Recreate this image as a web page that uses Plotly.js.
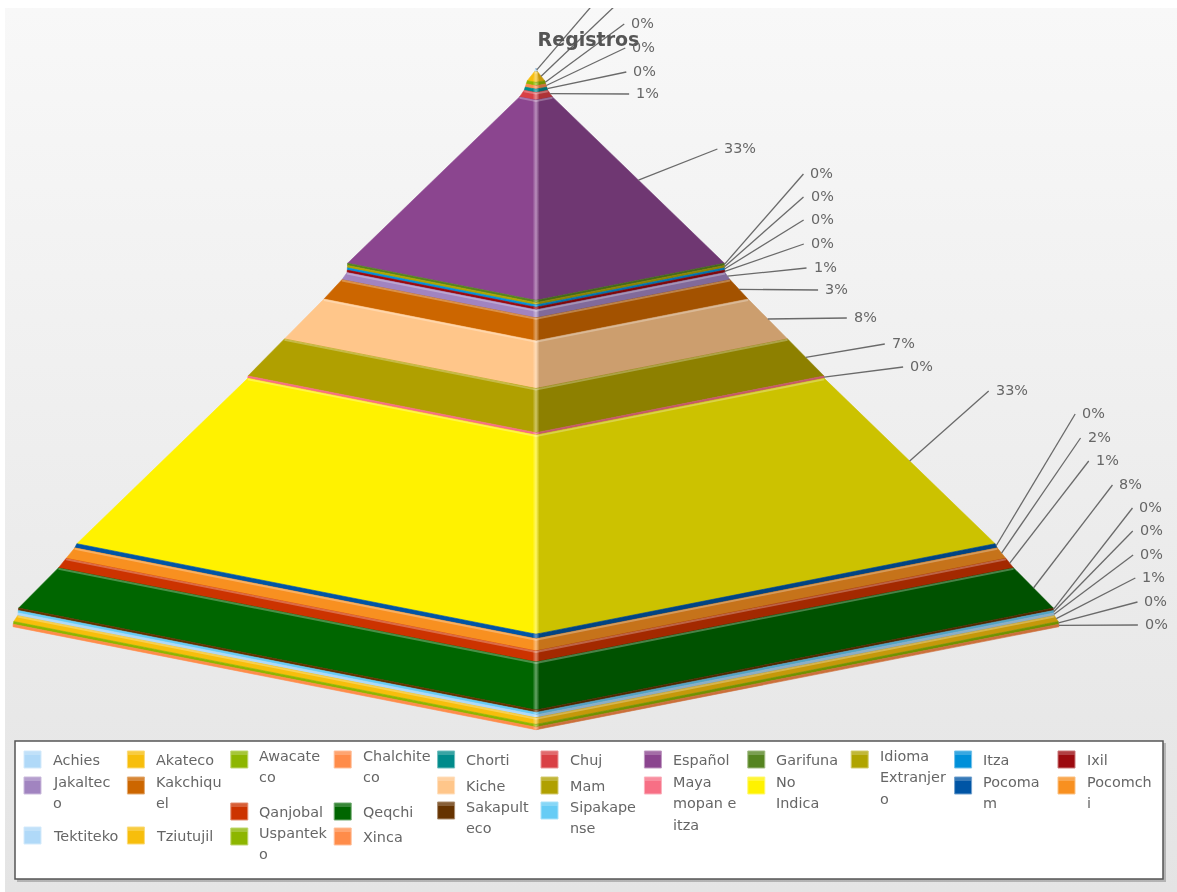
<!DOCTYPE html>
<html><head><meta charset="utf-8">
<script src="https://cdn.plot.ly/plotly-3.0.1.min.js"></script>
<style>
html,body{margin:0;padding:0;background:#fff;width:1177px;height:892px;overflow:hidden}
#bg{position:absolute;left:5px;top:8px;width:1172px;height:884px;background:linear-gradient(#f8f8f8,#e4e4e4)}
#chart{position:absolute;left:0;top:0;width:1177px;height:892px;filter:blur(0.45px)}
</style></head><body>
<div id="bg"></div><div id="chart"></div>
<script>
// ---- data (top of pyramid first) ----
const seriesNames=["Achies","Akateco","Awacateco","Chalchiteco","Chorti","Chuj","Español","Garifuna","Idioma Extranjero","Itza","Ixil","Jakalteco","Kakchiquel","Kiche","Mam","Maya mopan e itza","No Indica","Pocomam","Pocomchi","Qanjobal","Qeqchi","Sakapulteco","Sipakapense","Tektiteko","Tziutujil","Uspanteko","Xinca"];
const seriesValues=[0.3,1.4,0.2,0.2,0.2,0.9,33.5,0.02,0.02,0.02,0.05,1.0,3.5,7.7,7.1,0.04,33.3,0.4,1.7,1.49,7.75,0.05,0.05,0.1,0.75,0.1,0.05];
const seriesColors=["#B0D9F8","#F7BE0C","#8DB600","#FF8C4A","#008B8B","#D94045","#8B458F","#558420","#B0A400","#0090D9","#9C0A0F","#A184C0","#CC6600","#FFC68A","#B0A000","#F76F85","#FFF200","#0055A5","#F89020","#CC3300","#006600","#663300","#66CCF5","#B0D9F8","#F7BE0C","#8DB600","#FF8C4A"];
// ---- label and legend layout ----
const labelY=[-23,0,23,47,71,93,148,173,196,219,243,267,289,317,343,366,390,413,437,460,484,507,530,554,577,601,624];
const legendText=["Achies","Akateco","Awacate<br>co","Chalchite<br>co","Chorti","Chuj","Español","Garifuna","Idioma<br>Extranjer<br>o","Itza","Ixil","Jakaltec<br>o","Kakchiqu<br>el","Kiche","Mam","Maya<br>mopan e<br>itza","No<br>Indica","Pocoma<br>m","Pocomch<br>i","Qanjobal","Qeqchi","Sakapult<br>eco","Sipakape<br>nse","Tektiteko","Tziutujil","Uspantek<br>o","Xinca"];
const legendCol=[0,1,2,3,4,5,6,7,8,9,10,0,1,4,5,6,7,9,10,2,3,4,5,0,1,2,3];
const legendRowY=[760,760,760,760,760,760,760,760,760,760,760,786,786,786,786,786,786,786,786,812,812,811,811,836,836,837,837];

// ---- geometry ----
const CX=536,APEX=68,HALF=523,DEPTH=0.197,MINH=2.2,PX_PER_UNIT=4.9,LINE_H=21.5,FS=14.4;
const total=seriesValues.reduce((a,b)=>a+b,0);
function rgb(h){return [1,3,5].map(i=>parseInt(h.substr(i,2),16));}
function mix(h,t,a){const c=rgb(h);return 'rgb('+c.map(v=>Math.round(v+(t-v)*a)).join(',')+')';}
function hexOf(h,f){const c=rgb(h);return '#'+c.map(v=>Math.round(v*f).toString(16).padStart(2,'0')).join('');}
const traces=[],annotations=[],shapes=[];
let cum=0,y=APEX,w=0;
function poly(xs,ys,color){traces.push({x:xs.concat(xs[0]),y:ys.concat(ys[0]),type:'scatter',mode:'lines',line:{width:0.6,color:color},fill:'toself',fillcolor:color,hoverinfo:'skip'});}
seriesValues.forEach((v,i)=>{
  const pct=v/total*100;
  const wt=w,yt=y;
  cum+=pct; w=cum/100*HALF; y=yt+MINH+v*PX_PER_UNIT;
  const wb=w,yb=y,col=seriesColors[i],dark=hexOf(col,0.8);
  poly([CX-wt,CX,CX,CX-wb],[yt,yt+DEPTH*wt,yb+DEPTH*wb,yb],col);
  poly([CX+wt,CX,CX,CX+wb],[yt,yt+DEPTH*wt,yb+DEPTH*wb,yb],dark);
  // front-edge highlight
  const sT=Math.min(3.5,wt),sB=Math.min(3.5,wb);
  if(sB>0){
    const xs=[CX-sT,CX,CX+sT,CX+sB,CX,CX-sB,CX-sT];
    const ys=[yt+DEPTH*(wt-sT),yt+DEPTH*wt,yt+DEPTH*(wt-sT),yb+DEPTH*(wb-sB),yb+DEPTH*wb,yb+DEPTH*(wb-sB),yt+DEPTH*(wt-sT)];
    traces.push({x:xs,y:ys,type:'scatter',mode:'none',fill:'toself',hoverinfo:'skip',
      fillgradient:{type:'horizontal',colorscale:[[0,col],[0.5,mix(col,255,0.4)],[1,dark]]}});
  }
  // lighter rim on band top
  if(yb-yt>5&&wt>0){
    traces.push({x:[CX-wt,CX,CX+wt],y:[yt+1,yt+1+DEPTH*wt,yt+1],type:'scatter',mode:'lines',line:{width:1.8,color:'rgba(255,255,255,0.28)'},hoverinfo:'skip'});
  }
  // connector + label
  const ax=CX+(wt+wb)/2,ay=(yt+yb)/2,ex=ax+79,ey=labelY[i]+1;
  traces.push({x:[ax,ex],y:[ay,ey],type:'scatter',mode:'lines',line:{width:1.3,color:'#6a6a6a'},hoverinfo:'skip'});
  annotations.push({x:ex+5,y:labelY[i],xref:'x',yref:'y',text:Math.round(pct)+'%',showarrow:false,xanchor:'left',yanchor:'middle',font:{family:'DejaVu Sans',size:FS,color:'#666'}});
});

// ---- legend box ----
shapes.push({type:'rect',xref:'x',yref:'y',x0:17,x1:1166,y0:743,y1:882,fillcolor:'rgba(90,90,90,0.35)',line:{width:0},layer:'above'});
shapes.push({type:'rect',xref:'x',yref:'y',x0:15,x1:1163,y0:741,y1:879,fillcolor:'#fff',line:{width:1.5,color:'#555'},layer:'above'});
seriesNames.forEach((n,i)=>{
  const sx=24+legendCol[i]*103.4,sy=legendRowY[i];
  shapes.push({type:'rect',xref:'x',yref:'y',x0:sx,x1:sx+17,y0:sy-9,y1:sy+8,fillcolor:seriesColors[i],line:{width:1,color:mix(seriesColors[i],255,0.45)},layer:'above'});
  shapes.push({type:'rect',xref:'x',yref:'y',x0:sx+0.5,x1:sx+16.5,y0:sy-8.5,y1:sy-5,fillcolor:'rgba(255,255,255,0.22)',line:{width:0},layer:'above'});
  const parts=legendText[i].split('<br>');
  parts.forEach((t,k)=>{
    const ty=parts.length>1?sy-4.5+k*LINE_H:sy;
    annotations.push({x:sx+26.5,y:ty,xref:'x',yref:'y',text:t,showarrow:false,xanchor:'left',align:'left',yanchor:'middle',font:{family:'DejaVu Sans',size:FS,color:'#666'}});
  });
});

Plotly.newPlot('chart',traces,{
  width:1177,height:892,margin:{l:0,r:0,t:8,b:0},
  paper_bgcolor:'rgba(0,0,0,0)',plot_bgcolor:'rgba(0,0,0,0)',
  showlegend:false,hovermode:false,
  title:{text:'Registros',x:0.5,xanchor:'center',y:1-39/892,yanchor:'middle',font:{family:'DejaVu Sans',size:19,color:'#555',weight:'bold'}},
  xaxis:{range:[0,1177],visible:false,fixedrange:true},
  yaxis:{range:[892,8],visible:false,fixedrange:true},
  shapes:shapes,annotations:annotations
},{displayModeBar:false,staticPlot:true});
</script>
</body></html>
